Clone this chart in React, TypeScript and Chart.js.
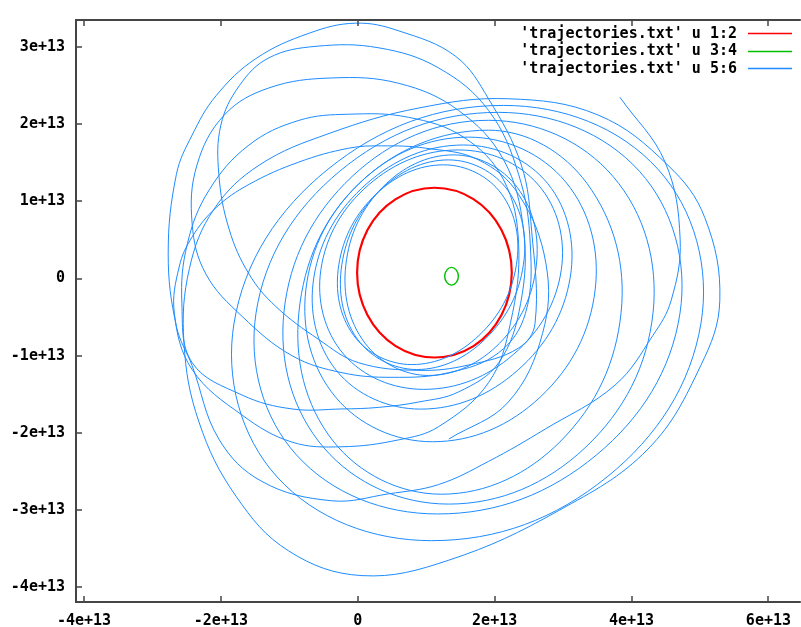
import { useEffect, useRef } from 'react';
import { Chart, registerables } from 'chart.js';

Chart.register(...registerables);

type Pt = [number, number];

// all coordinates in units of 1e13
const SCALE = 1e13;
const X_RANGE: Pt = [-4.117, 6.444];
const Y_RANGE: Pt = [-4.192, 3.351];
const X_TICKS = [-4, -2, 0, 2, 4, 6];
const X_TICK_LABELS = ['-4e+13', '-2e+13', '0', '2e+13', '4e+13', '6e+13'];
const Y_TICKS = [-4, -3, -2, -1, 0, 1, 2, 3];
const Y_TICK_LABELS = ['-4e+13', '-3e+13', '-2e+13', '-1e+13', '0', '1e+13', '2e+13', '3e+13'];
const SERIES_LABELS = ["'trajectories.txt' u 1:2", "'trajectories.txt' u 3:4", "'trajectories.txt' u 5:6"];
const SERIES_COLORS = ['#ff0000', '#00c000', '#1e8cff'];

// body 1 (columns 1:2), closed orbit
const RED_ORBIT: Pt[] = [
  [1.12, 1.177], [1.69, 1.03], [2.10, 0.63], [2.25, 0.077], [2.10, -0.473], [1.69, -0.876],
  [1.12, -1.023], [0.555, -0.876], [0.141, -0.473], [-0.01, 0.077], [0.141, 0.63], [0.555, 1.03],
];

// body 2 (columns 3:4), closed orbit
const GREEN_ORBIT: Pt[] = [
  [1.37, 0.145], [1.44, 0.11], [1.47, 0.03], [1.44, -0.05],
  [1.37, -0.085], [1.30, -0.05], [1.27, 0.03], [1.30, 0.11],
];

// body 3 (columns 5:6): first, open part of the trajectory (loops reaching far up-left)
const BLUE_PATH: Pt[] = [
  // start and first loop
  [3.83, 2.35], [4.49, 1.51], [4.71, 0.51], [4.58, -0.28], [4.31, -0.74], [3.76, -1.38],
  [2.74, -1.95], [1.91, -2.37], [1.18, -2.67], [0.45, -2.79], [-0.38, -2.88], [-1.40, -2.63],
  [-2.03, -2.08], [-2.42, -1.13], [-2.65, -0.62], [-2.77, 0.32], [-2.65, 1.35], [-2.42, 1.86],
  [-2.07, 2.37], [-1.49, 2.85], [-0.71, 3.18], [-0.03, 3.31], [0.60, 3.21], [1.43, 2.88],
  [1.91, 2.33], [2.39, 1.47], [2.54, 0.62], [2.59, -0.58],
  // second loop
  [2.35, -0.90], [1.62, -1.12], [0.89, -1.19], [0.01, -1.09], [-0.57, -0.79], [-1.20, -0.36],
  [-1.59, 0.06], [-1.88, 0.64], [-2.03, 1.35], [-2.00, 1.99], [-1.73, 2.50], [-1.30, 2.86],
  [-0.61, 3.01], [0.31, 2.99], [1.18, 2.73], [1.91, 2.18], [2.35, 1.35], [2.52, 0.45], [2.45, -0.45],
  // third loop
  [2.06, -0.96], [1.33, -1.22], [0.50, -1.28], [-0.23, -1.22], [-0.96, -1.00], [-1.69, -0.49],
  [-2.22, 0.06], [-2.42, 0.71], [-2.35, 1.47], [-1.95, 2.12], [-1.30, 2.47], [-0.38, 2.60],
  [0.60, 2.53], [1.47, 2.18], [2.13, 1.54], [2.42, 0.64], [2.38, -0.32],
  // fourth loop
  [2.06, -1.09], [1.47, -1.47], [0.89, -1.60], [0.30, -1.67], [-0.23, -1.69], [-0.96, -1.69],
  [-1.69, -1.51], [-2.42, -1.09], [-2.57, -0.32], [-2.49, 0.45], [-2.17, 1.15], [-1.59, 1.73],
  [-0.86, 2.05], [-0.13, 2.13], [0.74, 2.09], [1.55, 1.83], [2.13, 1.28], [2.35, 0.45], [2.23, -0.58],
  // fifth loop
  [1.91, -1.35], [1.18, -1.92], [0.60, -2.09], [-0.23, -2.18], [-0.96, -2.12], [-1.69, -1.77],
  [-2.42, -1.18], [-2.68, -0.45], [-2.61, 0.15], [-2.42, 0.54], [-2.07, 0.92], [-1.59, 1.22],
  [-0.86, 1.51], [-0.13, 1.69], [0.35, 1.72], [0.99, 1.69], [1.76, 1.54], [2.35, 1.09],
  [2.75, 0.19], [2.70, -0.71], [2.20, -1.60], [1.33, -2.08],
];

// body 3: later closed loops, listed clockwise from the top
const BLUE_LOOPS: Pt[][] = [
  [[1.254, 1.474], [2.102, 1.095], [2.318, 0.179], [1.773, -0.736], [0.787, -1.115], [-0.061, -0.736], [-0.277, 0.179], [0.268, 1.095]],
  [[1.327, 1.538], [2.195, 1.140], [2.420, 0.179], [1.866, -0.781], [0.860, -1.179], [-0.009, -0.781], [-0.233, 0.179], [0.321, 1.140]],
  [[1.399, 1.603], [2.329, 1.183], [2.609, 0.173], [2.073, -0.837], [1.035, -1.256], [0.105, -0.837], [-0.175, 0.173], [0.362, 1.183]],
  [[1.472, 1.667], [2.640, 1.212], [2.974, 0.115], [2.278, -0.981], [0.962, -1.436], [-0.206, -0.981], [-0.539, 0.115], [0.156, 1.212]],
  [[1.545, 1.731], [2.777, 1.229], [3.105, 0.019], [2.334, -1.191], [0.918, -1.692], [-0.313, -1.191], [-0.641, 0.019], [0.130, 1.229]],
  [[1.618, 1.833], [3.035, 1.255], [3.469, -0.141], [2.665, -1.537], [1.093, -2.115], [-0.324, -1.537], [-0.758, -0.141], [0.047, 1.255]],
  [[1.910, 1.923], [3.350, 1.232], [3.848, -0.436], [2.968, -2.104], [1.224, -2.795], [-0.362, -2.104], [-0.860, -0.436], [0.020, 1.232]],
  [[1.910, 2.051], [3.730, 1.323], [4.315, -0.436], [3.319, -2.195], [1.327, -2.923], [-0.494, -2.195], [-1.079, -0.436], [-0.083, 1.323]],
  [[2.055, 2.154], [4.115, 1.391], [4.708, -0.449], [3.485, -2.288], [1.166, -3.051], [-0.894, -2.288], [-1.487, -0.449], [-0.264, 1.391]],
  [[2.128, 2.244], [4.386, 1.417], [5.015, -0.577], [3.643, -2.571], [1.079, -3.397], [-1.179, -2.571], [-1.808, -0.577], [-0.436, 1.417]],
  [[2.20, 2.33], [3.51, 2.12], [4.53, 1.47], [5.07, 0.79], [5.29, -0.28], [5.01, -1.13], [4.24, -2.21],
    [2.93, -3.01], [1.33, -3.65], [0.06, -3.85], [-1.01, -3.53], [-1.78, -2.82], [-2.32, -1.86],
    [-2.54, -0.83], [-2.46, 0.13], [-2.10, 0.90], [-1.44, 1.47], [-0.42, 1.88], [0.89, 2.21]],
];

const FONT_FAMILY = "'DejaVu Sans Mono', monospace";
const FONT = { family: FONT_FAMILY, size: 15, weight: 'bold' as const };

const toXY = (pts: Pt[]) => pts.map(([x, y]) => ({ x: x * SCALE, y: y * SCALE }));

const lineDs = (pts: Pt[], color: string, width: number, closedLoop: boolean, tension: number) => ({
  data: toXY(pts),
  showLine: true,
  borderColor: color,
  borderWidth: width,
  pointRadius: 0,
  tension,
  fill: false,
  borderJoinStyle: 'round' as const,
  closedLoop,
});

// makes the closed orbits join smoothly (same mechanism as radar lines)
const loopPlugin = {
  id: 'closedLoops',
  afterDatasetsUpdate(chart: any) {
    chart.data.datasets.forEach((ds: any, i: number) => {
      if (ds.closedLoop) {
        const el = chart.getDatasetMeta(i).dataset;
        if (el) {
          el._loop = true;
          el._fullLoop = true;
          el._segments = undefined;
          el._pointsUpdated = false;
        }
      }
    });
  },
};

const framePlugin = {
  id: 'frame',
  beforeDraw(chart: any) {
    const { ctx } = chart;
    ctx.save();
    ctx.fillStyle = '#ffffff';
    ctx.fillRect(0, 0, chart.width, chart.height);
    ctx.restore();
  },
  afterDraw(chart: any) {
    const { ctx, chartArea: a, scales } = chart;
    ctx.save();
    ctx.strokeStyle = '#454545';
    ctx.lineWidth = 2;
    ctx.beginPath();
    ctx.moveTo(a.right + 2, a.top);
    ctx.lineTo(a.left, a.top);
    ctx.lineTo(a.left, a.bottom);
    ctx.lineTo(a.right + 2, a.bottom);
    ctx.stroke();
    ctx.lineWidth = 1.5;
    ctx.beginPath();
    X_TICKS.forEach((v) => {
      const px = Math.round(scales.x.getPixelForValue(v * SCALE));
      ctx.moveTo(px, a.bottom);
      ctx.lineTo(px, a.bottom - 6);
      ctx.moveTo(px, a.top);
      ctx.lineTo(px, a.top + 6);
    });
    Y_TICKS.forEach((v) => {
      const py = Math.round(scales.y.getPixelForValue(v * SCALE));
      ctx.moveTo(a.left, py);
      ctx.lineTo(a.left + 6, py);
    });
    ctx.stroke();

    // key
    ctx.font = `bold 15px ${FONT_FAMILY}`;
    ctx.fillStyle = '#000000';
    ctx.textAlign = 'right';
    ctx.textBaseline = 'middle';
    SERIES_LABELS.forEach((label, i) => {
      const y = a.top + 13 + i * 17.6;
      ctx.fillText(label, 737, y + 1);
      ctx.strokeStyle = SERIES_COLORS[i];
      ctx.lineWidth = 1.3;
      ctx.beginPath();
      ctx.moveTo(748, Math.round(y) + 0.5);
      ctx.lineTo(792, Math.round(y) + 0.5);
      ctx.stroke();
    });
    ctx.restore();
  },
};

export default function App() {
  const ref = useRef<HTMLCanvasElement>(null);
  useEffect(() => {
    if (!ref.current) return;
    const datasets: any[] = [
      lineDs(BLUE_PATH, SERIES_COLORS[2], 1, false, 0.38),
      ...BLUE_LOOPS.map((loop) => lineDs(loop, SERIES_COLORS[2], 1, true, 0.38)),
      lineDs(GREEN_ORBIT, SERIES_COLORS[1], 1.4, true, 0.38),
      lineDs(RED_ORBIT, SERIES_COLORS[0], 2.2, true, 0.35),
    ];
    const chart = new Chart(ref.current, {
      type: 'scatter',
      data: { datasets },
      plugins: [loopPlugin, framePlugin],
      options: {
        animation: false,
        responsive: false,
        devicePixelRatio: 1,
        layout: { padding: { top: 13, right: 0, bottom: 0, left: 0 } },
        plugins: { legend: { display: false }, tooltip: { enabled: false } },
        scales: {
          x: {
            type: 'linear',
            min: X_RANGE[0] * SCALE,
            max: X_RANGE[1] * SCALE,
            grid: { display: false, drawTicks: false },
            border: { display: false },
            ticks: {
              font: FONT,
              color: '#000000',
              padding: 10,
              maxRotation: 0,
              autoSkip: false,
              callback: (_v: any, i: number) => X_TICK_LABELS[i],
            },
            afterBuildTicks: (s: any) => {
              s.ticks = X_TICKS.map((v) => ({ value: v * SCALE }));
            },
            afterFit: (s: any) => {
              s.height = 25;
            },
          },
          y: {
            type: 'linear',
            min: Y_RANGE[0] * SCALE,
            max: Y_RANGE[1] * SCALE,
            grid: { display: false, drawTicks: false },
            border: { display: false },
            ticks: {
              font: FONT,
              color: '#000000',
              padding: 11,
              autoSkip: false,
              callback: (_v: any, i: number) => Y_TICK_LABELS[i],
            },
            afterBuildTicks: (s: any) => {
              s.ticks = Y_TICKS.map((v) => ({ value: v * SCALE }));
            },
            afterFit: (s: any) => {
              s.width = 76;
            },
          },
        },
      },
    });
    return () => chart.destroy();
  }, []);
  return (
    <div style={{ position: 'absolute', left: 0, top: 0 }}>
      <canvas ref={ref} width={801} height={627} style={{ display: 'block' }} />
    </div>
  );
}
